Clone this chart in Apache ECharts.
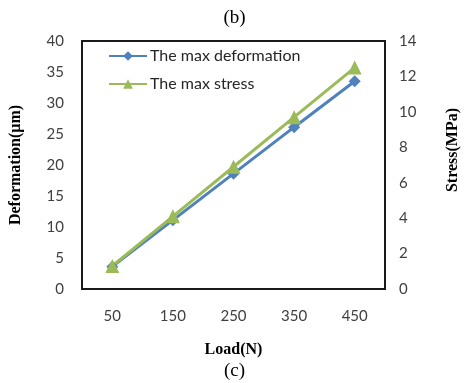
<!DOCTYPE html>
<html>
<head>
<meta charset="utf-8">
<script src="https://cdn.jsdelivr.net/npm/echarts@6/dist/echarts.min.js"></script>
<style>
html, body { margin: 0; padding: 0; background: #fff; }
#chart { width: 469px; height: 383px; }
</style>
</head>
<body>
<div id="chart"></div>
<script>
var loads = ['50', '150', '250', '350', '450'];
var deformation = [3.6, 11.1, 18.6, 26.1, 33.5];
var stress = [1.3, 4.1, 6.9, 9.7, 12.5];

(function() {
    var chart = echarts.init(document.getElementById('chart'), null, { renderer: 'canvas' });
    var blue = '#4f81bd';
    var green = '#9bbb59';
    var tickFont = { color: '#404040', fontFamily: 'Lato', fontSize: 15 };
    var serifBold = { color: '#000', fontFamily: 'Liberation Serif', fontWeight: 'bold', fontSize: 16 };

    chart.setOption({
        animation: false,
        title: [
            { text: '(b)', left: 'center', top: 4, textStyle: { color: '#000', fontFamily: 'Liberation Serif', fontWeight: 'normal', fontSize: 19 } },
            { text: '(c)', left: 'center', top: 357, textStyle: { color: '#000', fontFamily: 'Liberation Serif', fontWeight: 'normal', fontSize: 19 } }
        ],
        grid: { left: 79, right: 70, top: 41, bottom: 94, show: true, borderColor: '#1a1a1a', borderWidth: 2 },
        legend: {
            orient: 'vertical',
            left: 103,
            top: 43,
            itemWidth: 38,
            itemHeight: 12,
            itemGap: 12,
            textStyle: { color: '#262626', fontFamily: 'Lato', fontSize: 16, padding: [0, 0, 0, -2] },
            data: ['The max deformation', 'The max stress']
        },
        xAxis: {
            type: 'category',
            data: loads,
            name: 'Load(N)',
            nameLocation: 'middle',
            nameGap: 53,
            nameTextStyle: serifBold,
            axisLine: { lineStyle: { color: '#1a1a1a', width: 2 } },
            axisTick: { inside: true, length: 5, lineStyle: { color: '#888' } },
            axisLabel: Object.assign({ margin: 20 }, tickFont),
            splitLine: { show: false }
        },
        yAxis: [
            {
                type: 'value',
                min: 0, max: 40, interval: 5,
                name: 'Deformation(μm)',
                nameLocation: 'middle',
                nameGap: 58,
                nameTextStyle: serifBold,
                axisLine: { show: true, lineStyle: { color: '#1a1a1a', width: 2 } },
                axisTick: { show: false },
                axisLabel: Object.assign({ margin: 18 }, tickFont),
                splitLine: { show: false }
            },
            {
                type: 'value',
                min: 0, max: 14, interval: 2,
                name: 'Stress(MPa)',
                nameLocation: 'middle',
                nameGap: 60,
                nameRotate: 90,
                nameTextStyle: Object.assign({ padding: [0, 0, 0, 30] }, serifBold),
                axisLine: { show: true, lineStyle: { color: '#1a1a1a', width: 2 } },
                axisTick: { inside: true, length: 5, lineStyle: { color: '#888' } },
                axisLabel: Object.assign({ margin: 14 }, tickFont),
                splitLine: { show: false }
            }
        ],
        series: [
            {
                name: 'The max deformation',
                type: 'line',
                data: deformation,
                symbol: 'diamond',
                symbolSize: 12,
                lineStyle: { color: blue, width: 3 },
                itemStyle: { color: blue }
            },
            {
                name: 'The max stress',
                type: 'line',
                yAxisIndex: 1,
                data: stress,
                symbol: 'triangle',
                symbolSize: 14,
                lineStyle: { color: green, width: 3 },
                itemStyle: { color: green }
            }
        ]
    });
})();
</script>
</body>
</html>
